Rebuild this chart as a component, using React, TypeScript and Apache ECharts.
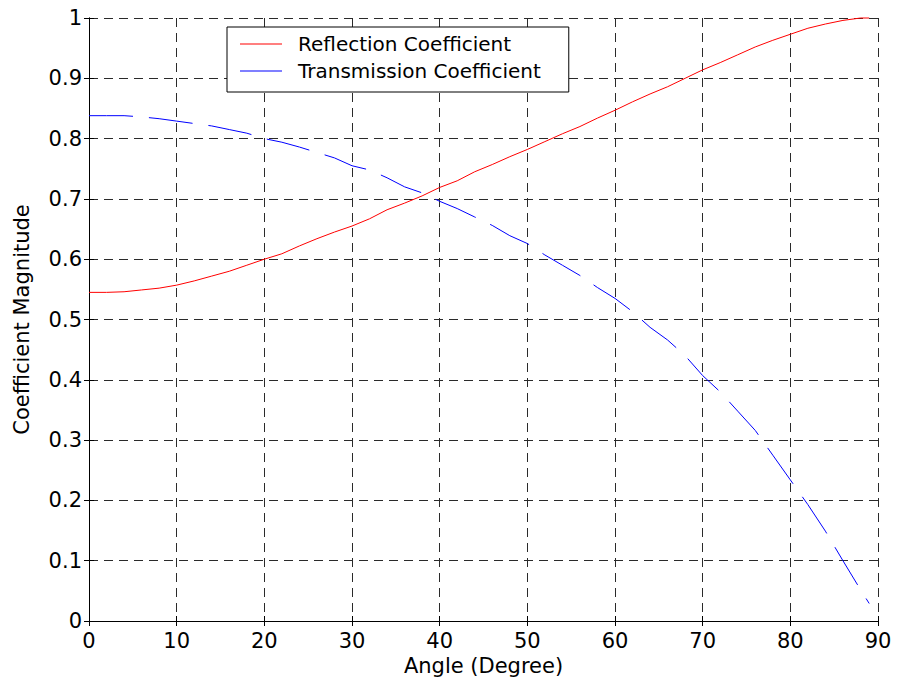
import React, { useEffect, useRef } from "react";
import * as echarts from "echarts";

// Incidence angle in degrees
const angles = [
  0, 2, 4, 6, 8, 10, 12, 14, 16, 18, 20, 22, 24, 26, 28, 30, 32, 34, 36, 38, 40,
  42, 44, 46, 48, 50, 52, 54, 56, 58, 60, 62, 64, 66, 68, 70, 72, 74, 76, 78, 80,
  82, 84, 86, 88, 89,
];

// Magnitude of the reflection coefficient
const reflection = [
  0.545, 0.545, 0.546, 0.549, 0.552, 0.557, 0.564, 0.572, 0.58, 0.59, 0.6,
  0.609, 0.622, 0.634, 0.645, 0.655, 0.667, 0.682, 0.693, 0.705, 0.719, 0.73,
  0.745, 0.757, 0.77, 0.782, 0.795, 0.808, 0.82, 0.834, 0.847, 0.861, 0.874,
  0.886, 0.9, 0.914, 0.926, 0.939, 0.952, 0.963, 0.973, 0.983, 0.99, 0.996, 1.0,
  1.0,
];

// Magnitude of the transmission coefficient
const transmission = [
  0.838, 0.838, 0.838, 0.836, 0.833, 0.829, 0.825, 0.821, 0.815, 0.809, 0.8,
  0.794, 0.786, 0.777, 0.768, 0.755, 0.748, 0.735, 0.72, 0.71, 0.696, 0.684,
  0.67, 0.656, 0.639, 0.626, 0.607, 0.59, 0.573, 0.553, 0.535, 0.513, 0.487,
  0.466, 0.44, 0.407, 0.38, 0.348, 0.316, 0.275, 0.234, 0.193, 0.149, 0.1, 0.052,
  0.029,
];

const seriesNames = ["Reflection Coefficient", "Transmission Coefficient"];
const xTitle = "Angle (Degree)";
const yTitle = "Coefficient Magnitude";

const FONT = "DejaVu Sans";

export default function App() {
  const ref = useRef<HTMLDivElement>(null);

  useEffect(() => {
    if (!ref.current) return;
    const chart = echarts.init(ref.current, undefined, { renderer: "svg" });

    const pair = (ys: number[]) => angles.map((a, i) => [a, ys[i]]);

    const gridLine = { show: true, lineStyle: { color: "#2a2a2a", width: 1, type: [9, 6] } };
    const axisLine = { show: true, lineStyle: { color: "#000", width: 1 } };
    const tick = { show: true, inside: true, length: 5, lineStyle: { color: "#000", width: 1 } };
    const labelStyle = { fontSize: 21, color: "#000", fontFamily: FONT };

    chart.setOption({
      animation: false,
      backgroundColor: "#fff",
      grid: { left: 89, right: 21, top: 18, bottom: 63, containLabel: false },
      legend: {
        left: 227,
        top: 27,
        orient: "vertical",
        data: seriesNames,
        icon: "rect",
        itemWidth: 42,
        itemHeight: 1,
        itemGap: 3,
        padding: [5, 28, 9, 13],
        borderColor: "#000",
        borderWidth: 1,
        backgroundColor: "#fff",
        textStyle: {
          fontSize: 20,
          color: "#000",
          fontFamily: FONT,
          lineHeight: 24,
          padding: [0, 0, 0, 11],
        },
      },
      xAxis: [
        {
          type: "value",
          min: 0,
          max: 90,
          interval: 10,
          position: "bottom",
          axisLine,
          axisTick: tick,
          axisLabel: { ...labelStyle, margin: 9 },
          splitLine: gridLine,
          name: xTitle,
          nameLocation: "middle",
          nameGap: 29,
          nameTextStyle: { fontSize: 21, color: "#000", fontFamily: FONT },
        },
        {
          type: "value",
          min: 0,
          max: 90,
          interval: 10,
          position: "top",
          axisLine,
          axisTick: tick,
          axisLabel: { show: false },
          splitLine: { show: false },
        },
      ],
      yAxis: [
        {
          type: "value",
          min: 0,
          max: 1,
          interval: 0.1,
          position: "left",
          axisLine,
          axisTick: tick,
          axisLabel: {
            ...labelStyle,
            margin: 7,
            formatter: (v: number) => String(Number(v.toFixed(1))),
          },
          splitLine: gridLine,
          name: yTitle,
          nameLocation: "middle",
          nameGap: 57,
          nameTextStyle: { fontSize: 21, color: "#000", fontFamily: FONT },
        },
        {
          type: "value",
          min: 0,
          max: 1,
          interval: 0.1,
          position: "right",
          axisLine,
          axisTick: tick,
          axisLabel: { show: false },
          splitLine: { show: false },
        },
      ],
      series: [
        {
          name: seriesNames[0],
          type: "line",
          data: pair(reflection),
          symbol: "none",
          clip: false,
          color: "#ff0000",
          lineStyle: { color: "#ff0000", width: 1 },
        },
        {
          name: seriesNames[1],
          type: "line",
          data: pair(transmission),
          symbol: "none",
          clip: false,
          color: "#0000ff",
          lineStyle: { color: "#0000ff", width: 1, type: [44, 16] },
        },
      ],
    });

    return () => chart.dispose();
  }, []);

  return (
    <div
      ref={ref}
      style={{ position: "fixed", left: 0, top: 0, width: 899, height: 684, background: "#fff" }}
    />
  );
}
